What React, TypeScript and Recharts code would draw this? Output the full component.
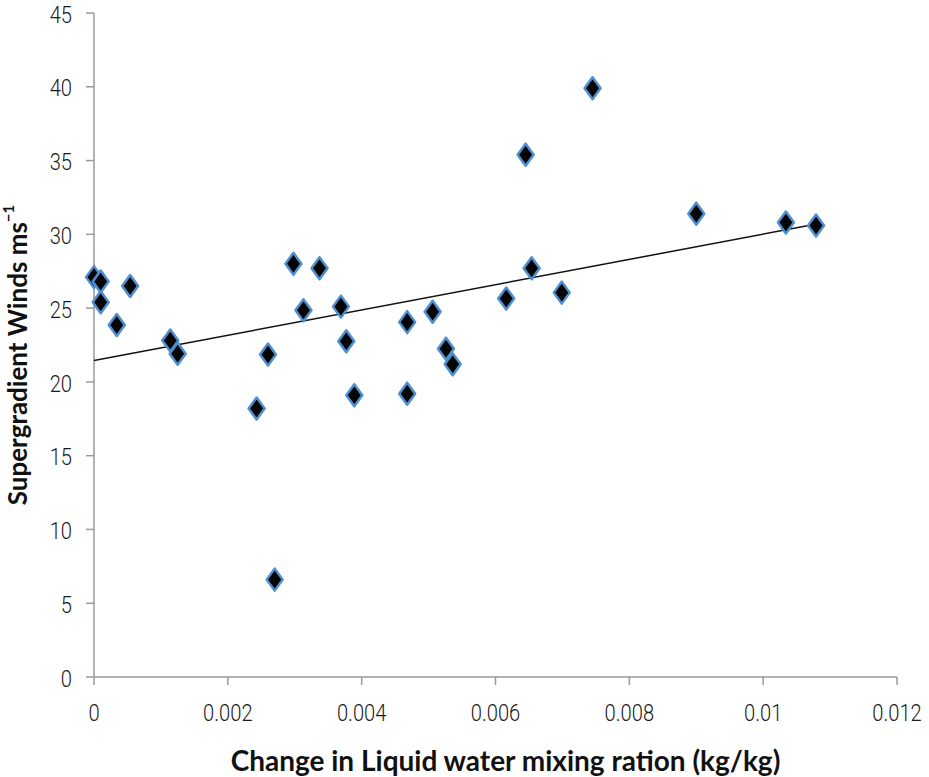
import React from 'react';
import { ScatterChart, Scatter, XAxis, YAxis } from 'recharts';

// change in liquid water mixing ratio (kg/kg) vs supergradient winds (m/s)
const mixingRatio = [
  0.0, 0.0001, 0.0001, 0.00034, 0.00054, 0.00114, 0.00125, 0.00243, 0.0026, 0.0027,
  0.00298, 0.00313, 0.00337, 0.00369, 0.00377, 0.00389, 0.00468, 0.00468, 0.00506, 0.00526,
  0.00536, 0.00616, 0.00645, 0.00654, 0.00699, 0.00745, 0.009, 0.01034, 0.01079,
];
const winds = [
  27.1, 26.8, 25.4, 23.85, 26.5, 22.8, 21.9, 18.2, 21.85, 6.6,
  28.0, 24.85, 27.7, 25.1, 22.75, 19.1, 24.05, 19.2, 24.75, 22.25,
  21.2, 25.65, 35.4, 27.7, 26.05, 39.9, 31.4, 30.8, 30.6,
];

// linear trend line end points
const trendX = [0, 0.0108];
const trendY = [21.45, 30.7];

const xTicks = [0, 0.002, 0.004, 0.006, 0.008, 0.01, 0.012];
const yTicks = [0, 5, 10, 15, 20, 25, 30, 35, 40, 45];

const points = mixingRatio.map((x, i) => ({ x, y: winds[i] }));
const trend = trendX.map((x, i) => ({ x, y: trendY[i] }));

const AXIS = '#9a9a9a';
const TICK_FONT = 'Roboto, "Open Sans", sans-serif';
const TITLE_FONT = 'Lato, "Open Sans", sans-serif';

function Diamond(props: any) {
  const { cx, cy } = props;
  if (cx == null || cy == null) return null;
  const w = 8;
  const h = 11;
  return (
    <path
      d={`M${cx},${cy - h} L${cx + w},${cy} L${cx},${cy + h} L${cx - w},${cy} Z`}
      fill="#050505"
      stroke="#4f8fd0"
      strokeWidth={2.5}
      strokeLinejoin="round"
    />
  );
}

// narrow, light tick text like the original
function Tick(props: any) {
  const { x, y, payload, textAnchor, axis } = props;
  const dy = axis === 'x' ? 12 : 1;
  return (
    <g transform={`translate(${x},${y + dy})`}>
      <text
        transform="scale(0.84,1)"
        textAnchor={textAnchor}
        dominantBaseline={axis === 'x' ? 'hanging' : 'central'}
        fontFamily={TICK_FONT}
        fontWeight={300}
        fontSize={24}
        fill="#1a1a1a"
      >
        {payload.value}
      </text>
    </g>
  );
}

function YTitle(props: any) {
  const { viewBox } = props;
  const cy = viewBox.y + viewBox.height / 2 + 10;
  const x = 17;
  return (
    <text
      x={x}
      y={cy}
      transform={`rotate(-90, ${x}, ${cy})`}
      textAnchor="middle"
      dominantBaseline="central"
      fontFamily={TITLE_FONT}
      fontWeight={700}
      fontSize={26}
      fill="#111"
    >
      Supergradient Winds ms
      <tspan fontSize={15} dy={-9}>−1</tspan>
    </text>
  );
}

export default function App() {
  return (
    <div style={{ position: 'absolute', left: 0, top: 0, width: 929, height: 777, background: '#fff' }}>
      <ScatterChart width={929} height={777} margin={{ top: 13, right: 32, bottom: 30, left: 34 }}>
        <XAxis
          type="number"
          dataKey="x"
          domain={[0, 0.012]}
          ticks={xTicks}
          interval={0}
          height={70}
          stroke={AXIS}
          strokeWidth={1.5}
          tickSize={8}
          tickMargin={6}
          tick={<Tick axis="x" />}
          label={{
            value: 'Change in Liquid water mixing ration (kg/kg)',
            position: 'insideBottom',
            offset: -24,
            dx: 10,
            style: { fontSize: 28, fontWeight: 700, fill: '#111', fontFamily: TITLE_FONT },
          }}
        />
        <YAxis
          type="number"
          dataKey="y"
          domain={[0, 45]}
          ticks={yTicks}
          interval={0}
          width={60}
          stroke={AXIS}
          strokeWidth={1.5}
          tickSize={8}
          tickMargin={14}
          tick={<Tick axis="y" />}
          label={<YTitle />}
        />
        <Scatter
          data={trend}
          line={{ stroke: '#111', strokeWidth: 1.5 }}
          shape={() => <g />}
          isAnimationActive={false}
        />
        <Scatter data={points} shape={<Diamond />} isAnimationActive={false} />
      </ScatterChart>
    </div>
  );
}
